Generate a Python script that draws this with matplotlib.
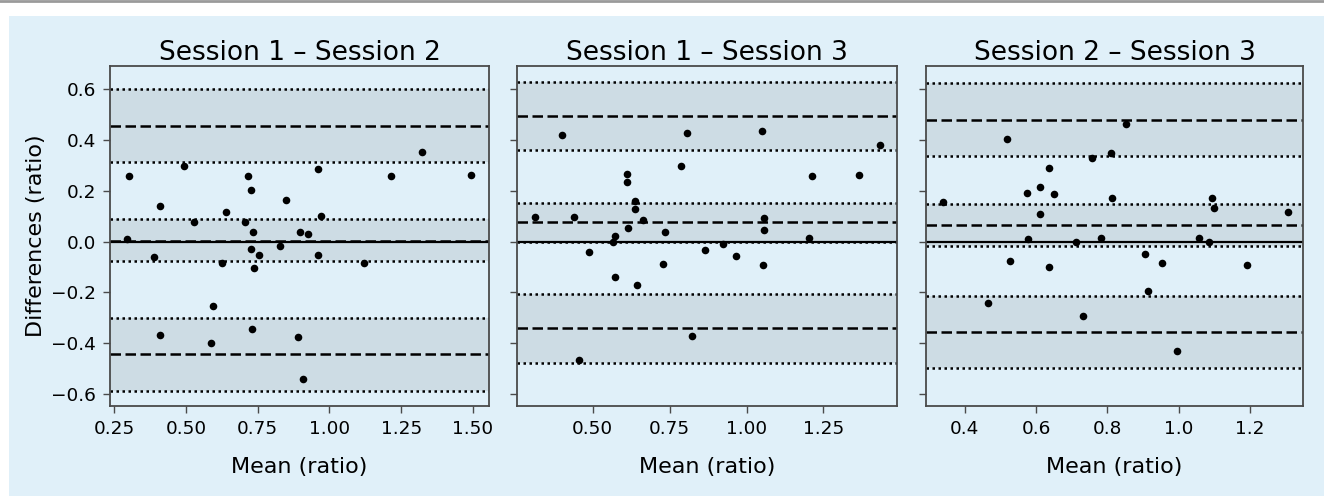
import matplotlib
matplotlib.use("Agg")
import matplotlib.pyplot as plt
from matplotlib.patches import Rectangle
from matplotlib.lines import Line2D

titles = ["Session 1 – Session 2", "Session 1 – Session 3", "Session 2 – Session 3"]

# Panel 1: Session 1 - Session 2
mean_12 = [0.302, 0.295, 0.410, 0.388, 0.408, 0.493, 0.529, 0.638, 0.624, 0.594, 0.587,
           0.717, 0.728, 0.705, 0.733, 0.727, 0.755, 0.737, 0.729, 0.850, 0.826,
           0.960, 0.970, 0.898, 0.924, 0.960, 0.892, 0.907, 1.121, 1.213, 1.322, 1.495]
diff_12 = [0.260, 0.009, 0.142, -0.059, -0.366, 0.297, 0.077, 0.118, -0.085, -0.253, -0.398,
           0.260, 0.202, 0.077, 0.039, -0.028, -0.054, -0.105, -0.343, 0.163, -0.016,
           0.286, 0.100, 0.039, 0.032, -0.053, -0.377, -0.542, -0.085, 0.260, 0.354, 0.263]
# bias, bias CI, upper LoA and its CI, lower LoA and its CI
lines_12 = dict(bias=0.004, bias_ci=(-0.075, 0.088), upper=0.457, upper_ci=(0.315, 0.600),
                lower=-0.444, lower_ci=(-0.587, -0.300))

# Panel 2: Session 1 - Session 3
mean_13 = [0.3125, 0.401, 0.440, 0.489, 0.457, 0.567, 0.573, 0.571, 0.613, 0.613, 0.636,
           0.636, 0.664, 0.614, 0.645, 0.734, 0.730, 0.786, 0.806, 0.823,
           0.864, 0.924, 0.967, 1.049, 1.058, 1.057, 1.055, 1.204, 1.213, 1.367, 1.435]
diff_13 = [0.098, 0.421, 0.098, -0.041, -0.466, 0.000, 0.022, -0.138, 0.267, 0.235, 0.159,
           0.127, 0.085, 0.055, -0.171, 0.038, -0.087, 0.299, 0.429, -0.370,
           -0.033, -0.009, -0.055, 0.435, 0.092, 0.046, -0.091, 0.013, 0.259, 0.261, 0.381]
lines_13 = dict(bias=0.076, bias_ci=(-0.001, 0.154), upper=0.496, upper_ci=(0.361, 0.630),
                lower=-0.341, lower_ci=(-0.479, -0.207))

# Panel 3: Session 2 - Session 3
mean_23 = [0.339, 0.465, 0.519, 0.527, 0.574, 0.576, 0.612, 0.612, 0.636, 0.649, 0.636,
           0.713, 0.733, 0.756, 0.781, 0.811, 0.852, 0.814, 0.905, 0.915, 0.952,
           0.996, 1.056, 1.085, 1.095, 1.099, 1.192, 1.306]
diff_23 = [0.156, -0.243, 0.406, -0.075, 0.190, 0.009, 0.214, 0.108, 0.290, 0.186, -0.100,
           -0.001, -0.293, 0.331, 0.016, 0.351, 0.463, 0.173, -0.050, -0.193, -0.085,
           -0.431, 0.016, -0.003, 0.173, 0.131, -0.093, 0.118]
lines_23 = dict(bias=0.064, bias_ci=(-0.017, 0.147), upper=0.480, upper_ci=(0.337, 0.626),
                lower=-0.356, lower_ci=(-0.497, -0.213))

xlims = [(0.235, 1.556), (0.254, 1.489), (0.291, 1.349)]
xticks = [[0.25, 0.50, 0.75, 1.00, 1.25, 1.50], [0.50, 0.75, 1.00, 1.25], [0.4, 0.6, 0.8, 1.0, 1.2]]
xticklabels = [["0.25", "0.50", "0.75", "1.00", "1.25", "1.50"],
               ["0.50", "0.75", "1.00", "1.25"],
               ["0.4", "0.6", "0.8", "1.0", "1.2"]]
yticks = [-0.6, -0.4, -0.2, 0.0, 0.2, 0.4, 0.6]
yticklabels = ["−0.6", "−0.4", "−0.2", "0.0", "0.2", "0.4", "0.6"]
ylim = (-0.647, 0.692)

BG = "#e0f0f9"
SHADE = "#cddce4"
SPINE = "#4a4a4a"

fig = plt.figure(figsize=(13.24, 4.96), dpi=100, facecolor="white")
fig.patches.append(Rectangle((9 / 1324, 0), 1 - 9 / 1324, 1 - 16 / 496, transform=fig.transFigure,
                             facecolor=BG, edgecolor="none", zorder=-10))
fig.lines.append(Line2D([0, 1], [1 - 1 / 496, 1 - 1 / 496], transform=fig.transFigure,
                        color="#9a9a9a", lw=2))

lefts = [110, 517, 926]
widths = [379, 380, 377]
top, bottom = 66, 406
datas = [(mean_12, diff_12, lines_12), (mean_13, diff_13, lines_13), (mean_23, diff_23, lines_23)]

for i in range(3):
    ax = fig.add_axes([lefts[i] / 1324, 1 - bottom / 496, widths[i] / 1324, (bottom - top) / 496])
    ax.set_facecolor(BG)
    mx, dy, ln = datas[i]
    for lo, hi in (ln["bias_ci"], ln["upper_ci"], ln["lower_ci"]):
        ax.axhspan(lo, hi, color=SHADE, lw=0, zorder=0)
        ax.axhline(lo, color="black", ls=(0, (1, 1.4)), lw=1.8, zorder=1)
        ax.axhline(hi, color="black", ls=(0, (1, 1.4)), lw=1.8, zorder=1)
    for v in (ln["bias"], ln["upper"], ln["lower"]):
        ax.axhline(v, color="black", ls=(0, (4.2, 1.8)), lw=1.8, zorder=1)
    ax.axhline(0, color="black", lw=1.6, zorder=2)
    ax.scatter(mx, dy, s=30, color="black", zorder=3, linewidths=0)
    ax.set_xlim(*xlims[i])
    ax.set_ylim(*ylim)
    ax.set_xticks(xticks[i])
    ax.set_xticklabels(xticklabels[i])
    ax.set_yticks(yticks)
    if i == 0:
        ax.set_yticklabels(yticklabels)
        ax.set_ylabel("Differences (ratio)", fontsize=16, labelpad=4)
    else:
        ax.set_yticklabels([])
    ax.set_title(titles[i], fontsize=19, pad=3)
    ax.set_xlabel("Mean (ratio)", fontsize=16, labelpad=14)
    ax.tick_params(axis="both", labelsize=13.3, direction="out", length=5, width=1,
                   color=SPINE, pad=5)
    for sp in ax.spines.values():
        sp.set_color(SPINE)
        sp.set_linewidth(1.3)

fig.savefig("out.png", dpi=100, facecolor="white")
